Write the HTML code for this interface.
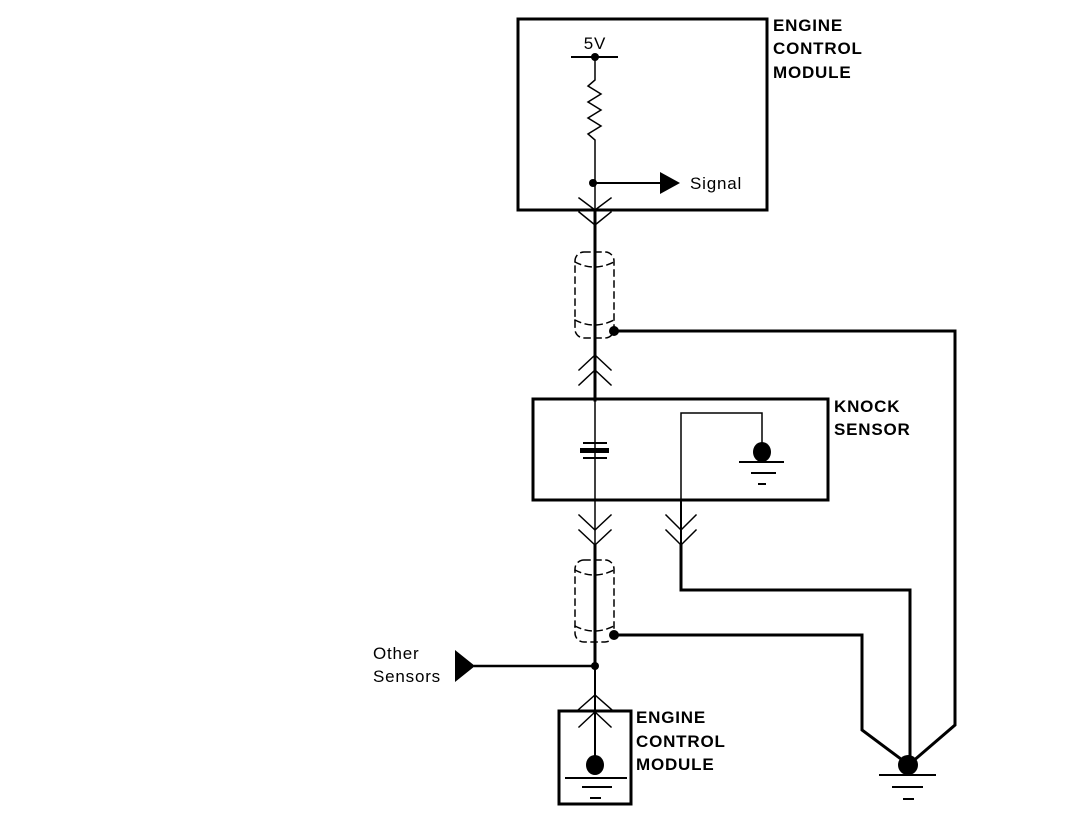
<!DOCTYPE html>
<html><head><meta charset="utf-8"><style>
html,body{margin:0;padding:0;background:#fff;}
svg{display:block;}
text{font-family:"Liberation Sans",sans-serif;fill:#000;}
.b{font-weight:bold;font-size:17px;letter-spacing:0.8px;}
.n{font-size:17px;letter-spacing:0.8px;}
</style></head><body>
<svg width="1072" height="816" viewBox="0 0 1072 816" xmlns="http://www.w3.org/2000/svg">
<g fill="none" stroke="#000" stroke-linecap="square">
<rect x="518" y="19" width="249" height="191" stroke-width="3"/>
<line x1="572" y1="57" x2="617" y2="57" stroke-width="2"/>
<polyline points="595,57 595,80 588,86 601,94 588,102 601,110 588,118 601,126 588,134 595,140 595,210" stroke-width="1.5"/>
<line x1="595" y1="183" x2="660" y2="183" stroke-width="2"/>
<polyline points="579,198 595,210 611,198" stroke-width="1.5"/>
<polyline points="579,212 595,225 611,212" stroke-width="1.5"/>
<line x1="595" y1="210" x2="595" y2="400" stroke-width="3"/>
<rect x="575" y="252" width="39" height="86" rx="9" stroke-width="1.5" stroke-dasharray="6,5"/>
<path d="M575,262 Q594,272 614,262 M575,320 Q594,330 614,320" stroke-width="1.5" stroke-dasharray="6,5"/>
<polyline points="614,331 955,331 955,725 912,762" stroke-width="3"/>
<polyline points="579,370 595,355 611,370" stroke-width="1.5"/>
<polyline points="579,385 595,370 611,385" stroke-width="1.5"/>
<rect x="533" y="399" width="295" height="101" stroke-width="3"/>
<line x1="595" y1="400" x2="595" y2="545" stroke-width="1.5"/>
<polyline points="681,500 681,413 762,413 762,445" stroke-width="1.5"/>
<line x1="740" y1="462" x2="783" y2="462" stroke-width="2"/>
<line x1="752" y1="473" x2="775" y2="473" stroke-width="2"/>
<line x1="759" y1="484" x2="765" y2="484" stroke-width="2"/>
<polyline points="579,515 595,530 611,515" stroke-width="1.5"/>
<polyline points="579,530 595,545 611,530" stroke-width="1.5"/>
<line x1="681" y1="500" x2="681" y2="545" stroke-width="2"/>
<polyline points="666,515 681,530 696,515" stroke-width="1.5"/>
<polyline points="666,530 681,545 696,530" stroke-width="1.5"/>
<polyline points="681,545 681,590 910,590 910,765" stroke-width="3"/>
<line x1="595" y1="545" x2="595" y2="666" stroke-width="3"/>
<rect x="575" y="560" width="39" height="82" rx="9" stroke-width="1.5" stroke-dasharray="6,5"/>
<path d="M575,570 Q594,580 614,570 M575,626 Q594,636 614,626" stroke-width="1.5" stroke-dasharray="6,5"/>
<polyline points="614,635 862,635 862,730 905,762" stroke-width="3"/>
<line x1="475" y1="666" x2="595" y2="666" stroke-width="2.5"/>
<line x1="595" y1="666" x2="595" y2="765" stroke-width="2"/>
<polyline points="578,710 595,695 612,710" stroke-width="1.5"/>
<polyline points="579,727 595,712 611,727" stroke-width="1.5"/>
<rect x="559" y="711" width="72" height="93" stroke-width="3"/>
<line x1="566" y1="778" x2="626" y2="778" stroke-width="2"/>
<line x1="583" y1="787" x2="611" y2="787" stroke-width="2"/>
<line x1="591" y1="798" x2="600" y2="798" stroke-width="2"/>
<line x1="880" y1="775" x2="935" y2="775" stroke-width="2"/>
<line x1="893" y1="787" x2="922" y2="787" stroke-width="2"/>
<line x1="904" y1="799" x2="913" y2="799" stroke-width="2"/>
</g>
<g fill="#000">
<circle cx="595" cy="57" r="4"/>
<circle cx="593" cy="183" r="4"/>
<polygon points="660,172 680,183 660,194"/>
<line x1="583" y1="443" x2="607" y2="443" stroke="#000" stroke-width="2"/>
<rect x="580" y="448" width="29" height="5"/>
<line x1="583" y1="458" x2="607" y2="458" stroke="#000" stroke-width="2"/>
<circle cx="614" cy="331" r="5"/>
<ellipse cx="762" cy="452" rx="9" ry="10"/>
<circle cx="614" cy="635" r="5"/>
<circle cx="595" cy="666" r="4"/>
<polygon points="455,650 475,666 455,682"/>
<ellipse cx="595" cy="765" rx="9" ry="10"/>
<circle cx="908" cy="765" r="10"/>
</g>
<text x="595" y="49" class="n" text-anchor="middle" font-size="15">5V</text>
<text x="690" y="189" class="n">Signal</text>
<text x="773" y="31" class="b">ENGINE</text>
<text x="773" y="54" class="b">CONTROL</text>
<text x="773" y="78" class="b">MODULE</text>
<text x="834" y="412" class="b">KNOCK</text>
<text x="834" y="435" class="b">SENSOR</text>
<text x="373" y="659" class="n">Other</text>
<text x="373" y="682" class="n">Sensors</text>
<text x="636" y="723" class="b">ENGINE</text>
<text x="636" y="747" class="b">CONTROL</text>
<text x="636" y="770" class="b">MODULE</text>
</svg>
</body></html>
